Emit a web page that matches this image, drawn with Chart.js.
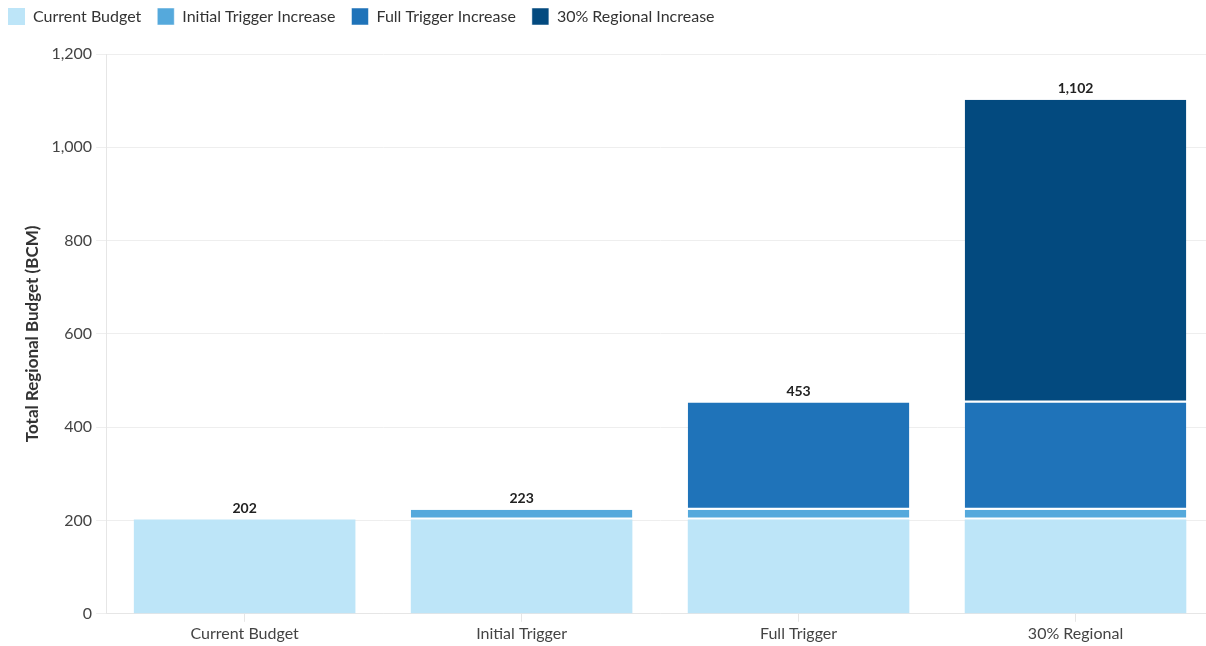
<!DOCTYPE html>
<html><head><meta charset="utf-8">
<script src="https://cdn.jsdelivr.net/npm/chart.js@4/dist/chart.umd.min.js"></script>
<style>html,body{margin:0;padding:0;background:#fff;overflow:hidden}#wrap{width:1230px;height:654px;margin-left:-16px;margin-top:-8px}</style>
</head><body><div id="wrap"><canvas id="c"></canvas></div>
<script>
const categories = ["Current Budget", "Initial Trigger", "Full Trigger", "30% Regional"];
const currentBudget = [202, 202, 202, 202];
const initialIncrease = [0, 21, 21, 21];
const fullIncrease = [0, 0, 230, 230];
const regionalIncrease = [0, 0, 0, 649];
const totals = [202, 223, 453, 1102];
const seriesNames = ["Current Budget", "Initial Trigger Increase", "Full Trigger Increase", "30% Regional Increase"];
const colors = ["#bde5f8", "#55a9dc", "#1f73b9", "#034a7f"];

const FONT = "Lato, 'Open Sans', sans-serif";
const totalPlugin = {
  id: 'totals',
  afterDatasetsDraw(chart) {
    const ctx = chart.ctx;
    const y = chart.scales.y, x = chart.scales.x;
    ctx.save();
    ctx.font = "bold 14px " + FONT;
    ctx.fillStyle = "#222";
    ctx.textAlign = "center";
    ctx.textBaseline = "bottom";
    totals.forEach((t, i) => {
      ctx.fillText(t.toLocaleString('en-US'), x.getPixelForValue(i), y.getPixelForValue(t) - 4);
    });
    ctx.restore();
  }
};
const legendGap = {
  id: 'legendGap',
  beforeInit(chart) {
    const orig = chart.legend.fit;
    chart.legend.fit = function () { orig.bind(chart.legend)(); this.height += 19; };
  }
};
const mk = (i, data) => ({
  label: seriesNames[i], data, backgroundColor: colors[i],
  borderColor: "#ffffff", borderWidth: {top: 0, left: 0, right: 0, bottom: i === 0 ? 0 : 2}, borderSkipped: false,
  barPercentage: 0.8, categoryPercentage: 1.0
});
new Chart(document.getElementById('c'), {
  type: 'bar',
  data: { labels: categories, datasets: [mk(0, currentBudget), mk(1, initialIncrease), mk(2, fullIncrease), mk(3, regionalIncrease)] },
  options: {
    responsive: true, maintainAspectRatio: false, animation: false,
    layout: { padding: { left: 8, top: 0, right: 0, bottom: 1 } },
    plugins: {
      legend: { position: 'top', align: 'start',
        labels: { boxWidth: 17, boxHeight: 17, padding: 16, color: "#333", font: { size: 16, family: FONT } } },
      tooltip: { enabled: false }
    },
    scales: {
      x: { stacked: true,
        grid: { display: true, drawOnChartArea: false, offset: false, tickLength: 8, color: "#e6e6e6" },
        border: { color: "#e6e6e6" },
        ticks: { color: "#444", font: { size: 16, family: FONT }, padding: 2 } },
      y: { stacked: true, min: 0, max: 1200,
        grid: { color: "#eeeeee", tickLength: 10 },
        border: { color: "#e6e6e6" },
        ticks: { stepSize: 200, color: "#444", font: { size: 16, family: FONT }, padding: 4,
          callback: v => v.toLocaleString('en-US') },
        title: { display: true, text: "Total Regional Budget (BCM)", color: "#333", font: { size: 17, weight: 'bold', family: FONT }, padding: { top: 30, bottom: 5 } } }
    }
  },
  plugins: [totalPlugin, legendGap]
});
</script></body></html>
